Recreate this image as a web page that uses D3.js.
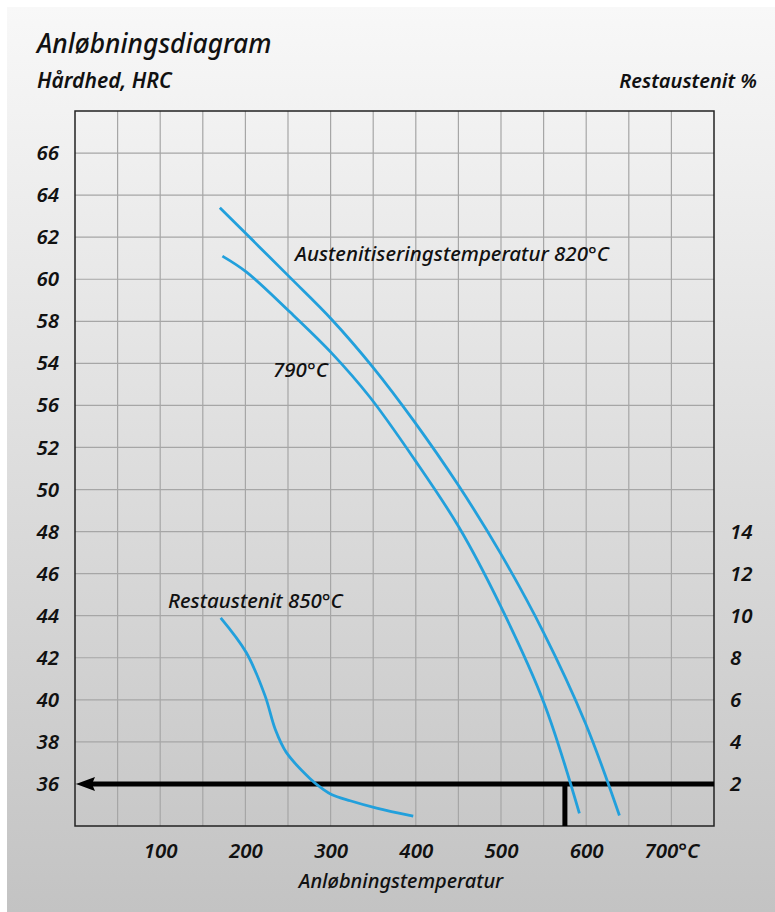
<!DOCTYPE html>
<html>
<head>
<meta charset="utf-8">
<script src="https://cdn.jsdelivr.net/npm/d3@7"></script>
<style>
  body { margin: 0; background: #fff; }
  text { font-family: "Noto Sans", "Open Sans", sans-serif; font-style: italic; fill: #111; }
</style>
</head>
<body>
<div class="chart"></div>
<script>
// temperature (°C) / hardness (HRC)
const temp820 = [170, 252, 301, 350, 397, 450, 499, 550, 599, 639];
const hrc820  = [63.4, 60.1, 58.1, 55.8, 53.3, 50.2, 47.0, 43.2, 38.9, 34.5];
const temp790 = [173, 201, 252, 301, 346, 399, 450, 499, 550, 592];
const hrc790  = [61.1, 60.35, 58.45, 56.5, 54.4, 51.4, 48.25, 44.5, 39.9, 34.6];
// restaustenit % (right axis)
const tempRA = [171, 201, 223, 235, 248, 276, 291, 301, 323, 354, 397];
const ra850  = [9.9, 8.25, 6.2, 4.6, 3.5, 2.25, 1.75, 1.5, 1.2, 0.85, 0.47];

const hrcTicks  = [66, 64, 62, 60, 58, 56, 54, 52, 50, 48, 46, 44, 42, 40, 38, 36];
const hrcLabels = ["66", "64", "62", "60", "58", "54", "56", "52", "50", "48", "46", "44", "42", "40", "38", "36"];
const raTicks   = [2, 4, 6, 8, 10, 12, 14];
const tempTicks = [100, 200, 300, 400, 500, 600, 700];
const tempLabels = ["100", "200", "300", "400", "500", "600", "700°C"];

const readHRC = 36;      // arrow level
const readTemp = 575;    // marked tempering temperature

const W = 775, H = 912;
const blue = "#22a0dc";
const font = '"Noto Sans", "Open Sans", sans-serif';

const svg = d3.select('.chart').append('svg')
  .attr('width', W).attr('height', H);

const grad = svg.append('defs').append('linearGradient')
  .attr('id', 'bg').attr('x1', 0).attr('y1', 0).attr('x2', 0).attr('y2', 1);
grad.append('stop').attr('offset', '0%').attr('stop-color', '#f8f8f8');
grad.append('stop').attr('offset', '100%').attr('stop-color', '#c3c3c3');

svg.append('rect').attr('x', 7).attr('y', 7).attr('width', W - 7).attr('height', H - 7)
  .attr('fill', 'url(#bg)');

const x = d3.scaleLinear().domain([0, 750]).range([75, 714]);
const y = d3.scaleLinear().domain([34, 68]).range([826, 111]);
const yR = d3.scaleLinear().domain([0, 34]).range([826, 111]);

// grid
const grid = svg.append('g');
grid.selectAll('.vg').data(d3.range(50, 750, 50)).enter().append('line')
  .attr('x1', d => x(d)).attr('x2', d => x(d))
  .attr('y1', y(34)).attr('y2', y(68))
  .attr('stroke', '#a6a6a6').attr('stroke-width', 1.2);
grid.selectAll('.hg').data(d3.range(36, 68, 2)).enter().append('line')
  .attr('y1', d => y(d)).attr('y2', d => y(d))
  .attr('x1', x(0)).attr('x2', x(750))
  .attr('stroke', '#a6a6a6').attr('stroke-width', 1.2);

svg.append('rect')
  .attr('x', x(0)).attr('y', y(68))
  .attr('width', x(750) - x(0)).attr('height', y(34) - y(68))
  .attr('fill', 'none').attr('stroke', '#222').attr('stroke-width', 1.5);

// axes
const leftAxis = svg.append('g')
  .attr('transform', 'translate(' + x(0) + ',0)')
  .call(d3.axisLeft(y).tickValues(hrcTicks).tickFormat((d, i) => hrcLabels[i])
    .tickSize(0).tickPadding(16));
const rightAxis = svg.append('g')
  .attr('transform', 'translate(' + x(750) + ',0)')
  .call(d3.axisRight(yR).tickValues(raTicks).tickSize(0).tickPadding(16));
const bottomAxis = svg.append('g')
  .attr('transform', 'translate(0,' + y(34) + ')')
  .call(d3.axisBottom(x).tickValues(tempTicks).tickFormat((d, i) => tempLabels[i])
    .tickSize(0).tickPadding(17));

[leftAxis, rightAxis, bottomAxis].forEach(a => {
  a.select('.domain').remove();
  a.selectAll('text')
    .style('font-family', font)
    .style('font-style', 'italic')
    .style('font-weight', 600)
    .style('font-size', '20.5px')
    .attr('fill', '#111');
});

// reading lines
svg.append('line')
  .attr('x1', x(750)).attr('x2', x(0) + 16)
  .attr('y1', y(readHRC)).attr('y2', y(readHRC))
  .attr('stroke', '#000').attr('stroke-width', 5);
svg.append('path')
  .attr('d', 'M' + (x(0) + 1) + ',' + y(readHRC) +
             'L' + (x(0) + 20) + ',' + (y(readHRC) - 7) +
             'L' + (x(0) + 17) + ',' + y(readHRC) +
             'L' + (x(0) + 20) + ',' + (y(readHRC) + 7) + 'Z')
  .attr('fill', '#000');
svg.append('line')
  .attr('x1', x(readTemp)).attr('x2', x(readTemp))
  .attr('y1', y(readHRC)).attr('y2', y(34))
  .attr('stroke', '#000').attr('stroke-width', 5);

// curves
const line = d3.line().x(d => x(d[0])).y(d => y(d[1])).curve(d3.curveCatmullRom);
const lineR = d3.line().x(d => x(d[0])).y(d => yR(d[1])).curve(d3.curveCatmullRom);

svg.append('path').datum(d3.zip(temp820, hrc820))
  .attr('d', line).attr('fill', 'none').attr('stroke', blue).attr('stroke-width', 2.8);
svg.append('path').datum(d3.zip(temp790, hrc790))
  .attr('d', line).attr('fill', 'none').attr('stroke', blue).attr('stroke-width', 2.8);
svg.append('path').datum(d3.zip(tempRA, ra850))
  .attr('d', lineR).attr('fill', 'none').attr('stroke', blue).attr('stroke-width', 2.8);

// texts
svg.append('text').attr('x', 37).attr('y', 53)
  .style('font-size', '26.3px').style('font-weight', 500).text('Anløbningsdiagram');
svg.append('text').attr('x', 37).attr('y', 88)
  .style('font-size', '21px').style('font-weight', 600).text('Hårdhed, HRC');
svg.append('text').attr('x', 757).attr('y', 88).attr('text-anchor', 'end')
  .style('font-size', '20px').style('font-weight', 600).text('Restaustenit %');

svg.append('text').attr('x', 295).attr('y', 261)
  .style('font-size', '20.5px').style('font-weight', 500).text('Austenitiseringstemperatur 820°C');
svg.append('text').attr('x', 273).attr('y', 377)
  .style('font-size', '20.5px').style('font-weight', 500).text('790°C');
svg.append('text').attr('x', 168).attr('y', 608)
  .style('font-size', '20.5px').style('font-weight', 500).text('Restaustenit 850°C');
svg.append('text').attr('x', 401).attr('y', 888).attr('text-anchor', 'middle')
  .style('font-size', '20px').style('font-weight', 500).text('Anløbningstemperatur');
</script>
</body>
</html>
